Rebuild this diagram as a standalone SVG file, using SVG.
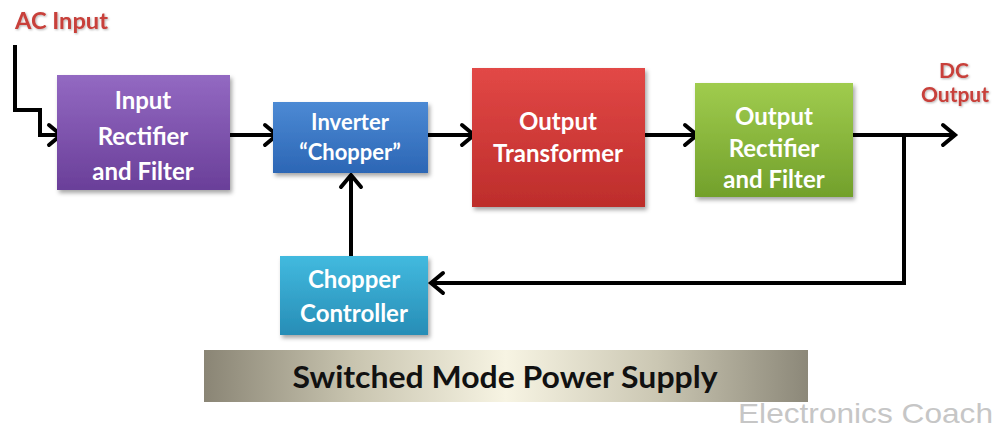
<svg xmlns="http://www.w3.org/2000/svg" width="996" height="429" viewBox="0 0 996 429">
<defs>
<style>
.lbl{font-family:Lato,"Open Sans","Liberation Sans",sans-serif;font-weight:bold;fill:#ffffff;text-anchor:middle}
.red{font-family:Lato,"Open Sans","Liberation Sans",sans-serif;font-weight:bold;fill:#c8403a}
.wire{fill:none;stroke:#000;stroke-width:4;marker-end:url(#arr)}
.box{filter:url(#sh)}
</style>
<filter id="sh" x="-10%" y="-10%" width="125%" height="130%">
<feDropShadow dx="2" dy="3" stdDeviation="2" flood-color="#000" flood-opacity="0.35"/>
</filter>
<filter id="tsh" x="-10%" y="-20%" width="125%" height="150%">
<feDropShadow dx="1" dy="1" stdDeviation="1" flood-color="#000" flood-opacity="0.3"/>
</filter>
<marker id="arr" markerUnits="userSpaceOnUse" viewBox="-16 -13 20 26" markerWidth="20" markerHeight="26" refX="0" refY="0" orient="auto">
<path d="M-12,-10 L0,0 L-12,10" fill="none" stroke="#000" stroke-width="4" stroke-linecap="round"/>
</marker>
<linearGradient id="gP" x1="0" y1="0" x2="0" y2="1"><stop offset="0" stop-color="#9369c2"/><stop offset="1" stop-color="#6a3f99"/></linearGradient>
<linearGradient id="gB" x1="0" y1="0" x2="0" y2="1"><stop offset="0" stop-color="#4c8ad4"/><stop offset="1" stop-color="#2c66b5"/></linearGradient>
<linearGradient id="gR" x1="0" y1="0" x2="0" y2="1"><stop offset="0" stop-color="#e24846"/><stop offset="1" stop-color="#bd2d2b"/></linearGradient>
<linearGradient id="gG" x1="0" y1="0" x2="0" y2="1"><stop offset="0" stop-color="#a0cc4e"/><stop offset="1" stop-color="#72a02b"/></linearGradient>
<linearGradient id="gC" x1="0" y1="0" x2="0" y2="1"><stop offset="0" stop-color="#42badf"/><stop offset="1" stop-color="#278db6"/></linearGradient>
<linearGradient id="gBan" x1="0" y1="0" x2="1" y2="0">
<stop offset="0" stop-color="#8a8575"/><stop offset="0.25" stop-color="#c9c5b0"/><stop offset="0.5" stop-color="#f7f4e3"/><stop offset="0.75" stop-color="#cbc7b3"/><stop offset="1" stop-color="#8c8879"/>
</linearGradient>
</defs>
<rect width="996" height="429" fill="#ffffff"/>

<g id="ac-input"><text class="red" x="15" y="29" font-size="22" textLength="93" lengthAdjust="spacingAndGlyphs" filter="url(#tsh)">AC Input</text></g>
<g id="dc-output">
<text class="red" x="954" y="78" font-size="21" text-anchor="middle" filter="url(#tsh)">DC</text>
<text class="red" x="955" y="102" font-size="21" text-anchor="middle" filter="url(#tsh)">Output</text>
</g>

<g id="connectors">
<path class="wire" d="M15,45 V110 H40 V135 H61"/>
<path class="wire" d="M230,135 H277"/>
<path class="wire" d="M428,135 H474"/>
<path class="wire" d="M645,135 H697"/>
<path class="wire" d="M853,135 H955"/>
<path class="wire" d="M904,135 V283 H431"/>
<path class="wire" d="M351,256 V175"/>
</g>

<g id="input-rectifier">
<rect class="box" x="57" y="75" width="173" height="115" fill="url(#gP)"/>
<text class="lbl" x="143" y="109" font-size="24">Input</text>
<text class="lbl" x="143" y="145" font-size="24">Rectifier</text>
<text class="lbl" x="143" y="180" font-size="24">and Filter</text>
</g>
<g id="inverter">
<rect class="box" x="273" y="102" width="155" height="71" fill="url(#gB)"/>
<text class="lbl" x="350" y="130" font-size="22">Inverter</text>
<text class="lbl" x="350" y="160" font-size="22">“Chopper”</text>
</g>
<g id="transformer">
<rect class="box" x="472" y="68" width="173" height="139" fill="url(#gR)"/>
<text class="lbl" x="558" y="130" font-size="24">Output</text>
<text class="lbl" x="558" y="162" font-size="24">Transformer</text>
</g>
<g id="output-rectifier">
<rect class="box" x="695" y="83" width="158" height="114" fill="url(#gG)"/>
<text class="lbl" x="774" y="125" font-size="24">Output</text>
<text class="lbl" x="774" y="157" font-size="24">Rectifier</text>
<text class="lbl" x="774" y="188" font-size="24">and Filter</text>
</g>
<g id="chopper-controller">
<rect class="box" x="280" y="256" width="148" height="79" fill="url(#gC)"/>
<text class="lbl" x="354" y="288" font-size="24">Chopper</text>
<text class="lbl" x="354" y="322" font-size="24">Controller</text>
</g>

<g id="banner">
<rect x="204" y="350" width="604" height="52" fill="url(#gBan)"/>
<text x="505" y="388" font-family="Lato,'Open Sans','Liberation Sans',sans-serif" font-weight="bold" font-size="30" fill="#111" text-anchor="middle" textLength="425" lengthAdjust="spacingAndGlyphs">Switched Mode Power Supply</text>
</g>
<text x="738" y="423" font-family="'Liberation Sans',Arial,sans-serif" font-size="28" fill="#c6c6c6" textLength="255" lengthAdjust="spacingAndGlyphs">Electronics Coach</text>
</svg>
